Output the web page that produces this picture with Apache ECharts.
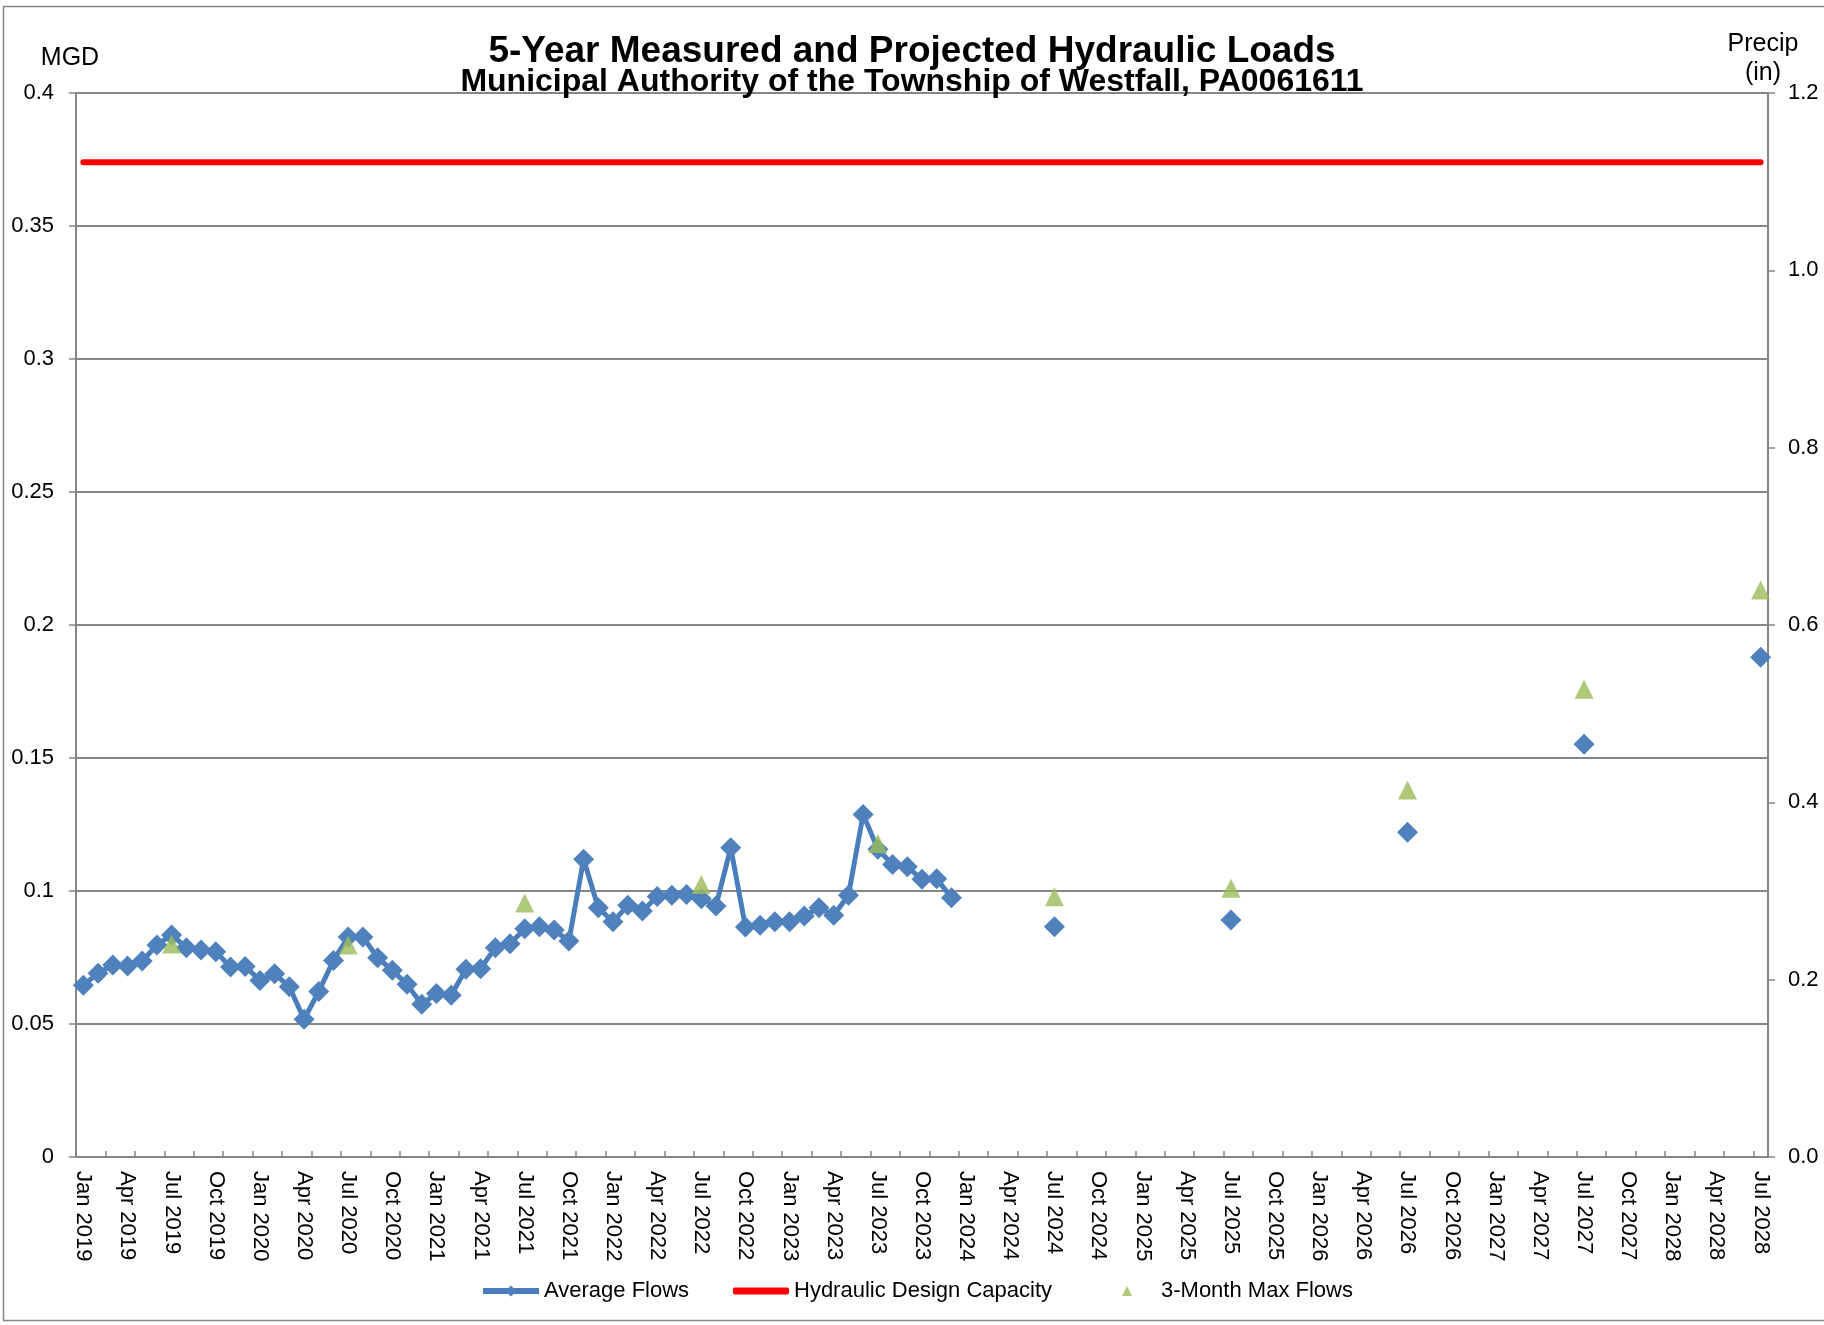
<!DOCTYPE html>
<html>
<head>
<meta charset="utf-8">
<script src="https://cdn.jsdelivr.net/npm/echarts@6/dist/echarts.min.js"></script>
<style>html,body{margin:0;padding:0;background:#fff;}#chart{width:1824px;height:1325px;}</style>
</head>
<body>
<div id="chart"></div>
<script>
const categories = [
  'Jan 2019','Feb 2019','Mar 2019','Apr 2019','May 2019','Jun 2019','Jul 2019','Aug 2019','Sep 2019','Oct 2019','Nov 2019','Dec 2019',
  'Jan 2020','Feb 2020','Mar 2020','Apr 2020','May 2020','Jun 2020','Jul 2020','Aug 2020','Sep 2020','Oct 2020','Nov 2020','Dec 2020',
  'Jan 2021','Feb 2021','Mar 2021','Apr 2021','May 2021','Jun 2021','Jul 2021','Aug 2021','Sep 2021','Oct 2021','Nov 2021','Dec 2021',
  'Jan 2022','Feb 2022','Mar 2022','Apr 2022','May 2022','Jun 2022','Jul 2022','Aug 2022','Sep 2022','Oct 2022','Nov 2022','Dec 2022',
  'Jan 2023','Feb 2023','Mar 2023','Apr 2023','May 2023','Jun 2023','Jul 2023','Aug 2023','Sep 2023','Oct 2023','Nov 2023','Dec 2023',
  'Jan 2024','Feb 2024','Mar 2024','Apr 2024','May 2024','Jun 2024','Jul 2024','Aug 2024','Sep 2024','Oct 2024','Nov 2024','Dec 2024',
  'Jan 2025','Feb 2025','Mar 2025','Apr 2025','May 2025','Jun 2025','Jul 2025','Aug 2025','Sep 2025','Oct 2025','Nov 2025','Dec 2025',
  'Jan 2026','Feb 2026','Mar 2026','Apr 2026','May 2026','Jun 2026','Jul 2026','Aug 2026','Sep 2026','Oct 2026','Nov 2026','Dec 2026',
  'Jan 2027','Feb 2027','Mar 2027','Apr 2027','May 2027','Jun 2027','Jul 2027','Aug 2027','Sep 2027','Oct 2027','Nov 2027','Dec 2027',
  'Jan 2028','Feb 2028','Mar 2028','Apr 2028','May 2028','Jun 2028','Jul 2028'
];

// Measured monthly average flows (MGD), Jan 2019 - Dec 2023
const measuredMonths = categories.slice(0, 60);
const measuredFlows = [
  0.0646, 0.0691, 0.0722, 0.0718, 0.0737, 0.0797, 0.0835, 0.0787, 0.0778, 0.0772, 0.0714, 0.0716,
  0.0664, 0.0689, 0.0640, 0.0518, 0.0622, 0.0739, 0.0827, 0.0827, 0.0749, 0.0702, 0.0649, 0.0574,
  0.0615, 0.0608, 0.0706, 0.0708, 0.0787, 0.0802, 0.0858, 0.0866, 0.0853, 0.0812, 0.1119, 0.0937,
  0.0884, 0.0946, 0.0925, 0.0979, 0.0984, 0.0987, 0.0971, 0.0944, 0.1163, 0.0865, 0.0871, 0.0884,
  0.0884, 0.0906, 0.0937, 0.0909, 0.0984, 0.1288, 0.1157, 0.1100, 0.1091, 0.1044, 0.1046, 0.0975
];

// Projected average flows (MGD)
const projectedMonths = ['Jul 2024', 'Jul 2025', 'Jul 2026', 'Jul 2027', 'Jul 2028'];
const projectedFlows = [0.0866, 0.0891, 0.1221, 0.1552, 0.1879];

// 3-Month max flows (MGD)
const maxFlowMonths = ['Jul 2019', 'Jul 2020', 'Jul 2021', 'Jul 2022', 'Jul 2023', 'Jul 2024', 'Jul 2025', 'Jul 2026', 'Jul 2027', 'Jul 2028'];
const maxFlowValues = [0.0801, 0.0797, 0.0955, 0.1024, 0.1179, 0.0978, 0.1010, 0.1380, 0.1758, 0.2132];

// Hydraulic design capacity (MGD)
const designCapacity = 0.374;

const leftTicks = { min: 0, max: 0.4, interval: 0.05 };
const rightTicks = { min: 0, max: 1.2, interval: 0.2 };

// Build series arrays from the named data
const avgData = categories.map(function (c) {
  let i = measuredMonths.indexOf(c);
  if (i >= 0) return measuredFlows[i];
  i = projectedMonths.indexOf(c);
  if (i >= 0) return projectedFlows[i];
  return null;
});
const capData = categories.map(function () { return designCapacity; });
const maxData = maxFlowMonths.map(function (m, i) { return [m, maxFlowValues[i]]; });

const FONT = "'Liberation Sans', Arial, sans-serif";
const GRAY = '#868686';

const chart = echarts.init(document.getElementById('chart'), null, { renderer: 'canvas' });
chart.setOption({
  animation: false,
  backgroundColor: '#ffffff',
  title: [
    { text: '5-Year Measured and Projected Hydraulic Loads', left: 'center', top: 33, padding: 0,
      textStyle: { fontFamily: FONT, fontSize: 37, fontWeight: 'bold', color: '#000' } },
    { text: 'Municipal Authority of the Township of Westfall, PA0061611', left: 'center', top: 66, padding: 0,
      textStyle: { fontFamily: FONT, fontSize: 32, fontWeight: 'bold', color: '#000' } }
  ],
  graphic: [
    { type: 'rect', silent: true, z: -10, shape: { x: 3.5, y: 6.5, width: 1830, height: 1314 },
      style: { fill: 'none', stroke: GRAY, lineWidth: 1.5 } },
    { type: 'text', silent: true, x: 1763, y: 59,
      style: { text: 'Precip\n(in)', fontFamily: FONT, fontSize: 25, lineHeight: 29, fill: '#000',
        align: 'center', verticalAlign: 'middle' } }
  ],
  legend: [
    { data: ['Average Flows'], left: 480, top: 1280, padding: 0, itemWidth: 56, itemHeight: 14,
      lineStyle: { width: 6 },
      textStyle: { fontFamily: FONT, fontSize: 22, color: '#000' } },
    { data: [{ name: 'Hydraulic Design Capacity', icon: 'roundRect' }], left: 733, top: 1280, padding: 0,
      itemWidth: 56, itemHeight: 7,
      textStyle: { fontFamily: FONT, fontSize: 22, color: '#000' } },
    { data: ['3-Month Max Flows'], left: 1122, top: 1280, padding: 0, itemWidth: 10, itemHeight: 10,
      textStyle: { fontFamily: FONT, fontSize: 22, color: '#000', padding: [0, 0, 0, 24] } }
  ],
  grid: { left: 76, right: 56, top: 93, bottom: 168, containLabel: false },
  xAxis: {
    type: 'category',
    data: categories,
    boundaryGap: true,
    axisLine: { show: true, lineStyle: { color: GRAY, width: 2 } },
    axisTick: { show: true, inside: true, length: 6, interval: 1, lineStyle: { color: GRAY, width: 1.5 } },
    axisLabel: { interval: 2, rotate: -90, margin: 14, fontFamily: FONT, fontSize: 22, color: '#000' },
    splitLine: { show: false }
  },
  yAxis: [
    {
      type: 'value', position: 'left', min: leftTicks.min, max: leftTicks.max, interval: leftTicks.interval,
      name: 'MGD', nameLocation: 'end', nameGap: 22,
      nameTextStyle: { fontFamily: FONT, fontSize: 25, color: '#000', align: 'center', padding: [0, 12, 0, 0] },
      axisLine: { show: true, lineStyle: { color: GRAY, width: 2 } },
      axisTick: { show: true, inside: false, length: 7, lineStyle: { color: GRAY, width: 1.5 } },
      axisLabel: { margin: 22, fontFamily: FONT, fontSize: 22, color: '#000' },
      splitLine: { show: true, lineStyle: { color: GRAY, width: 2 } }
    },
    {
      type: 'value', position: 'right', min: rightTicks.min, max: rightTicks.max, interval: rightTicks.interval,
      axisLine: { show: true, lineStyle: { color: GRAY, width: 2 } },
      axisTick: { show: true, inside: false, length: 7, lineStyle: { color: GRAY, width: 1.5 } },
      axisLabel: { margin: 20, fontFamily: FONT, fontSize: 22, color: '#000',
        formatter: function (v) { return v.toFixed(1); } },
      splitLine: { show: false }
    }
  ],
  series: [
    {
      name: 'Average Flows', type: 'line', yAxisIndex: 0, data: avgData,
      connectNulls: false, showSymbol: true, showAllSymbol: true,
      symbol: 'diamond', symbolSize: 21,
      itemStyle: { color: '#4F81BD' },
      lineStyle: { color: '#4A7EBB', width: 5 },
      z: 3
    },
    {
      name: 'Hydraulic Design Capacity', type: 'line', yAxisIndex: 0, data: capData,
      symbol: 'none', showSymbol: false,
      itemStyle: { color: '#FF0000' },
      lineStyle: { color: '#FF0000', width: 6, cap: 'round' },
      z: 2
    },
    {
      name: '3-Month Max Flows', type: 'scatter', yAxisIndex: 0, data: maxData,
      symbol: 'triangle', symbolSize: 19,
      itemStyle: { color: '#9BBB59' },
      z: 4
    }
  ]
});
</script>
</body>
</html>
